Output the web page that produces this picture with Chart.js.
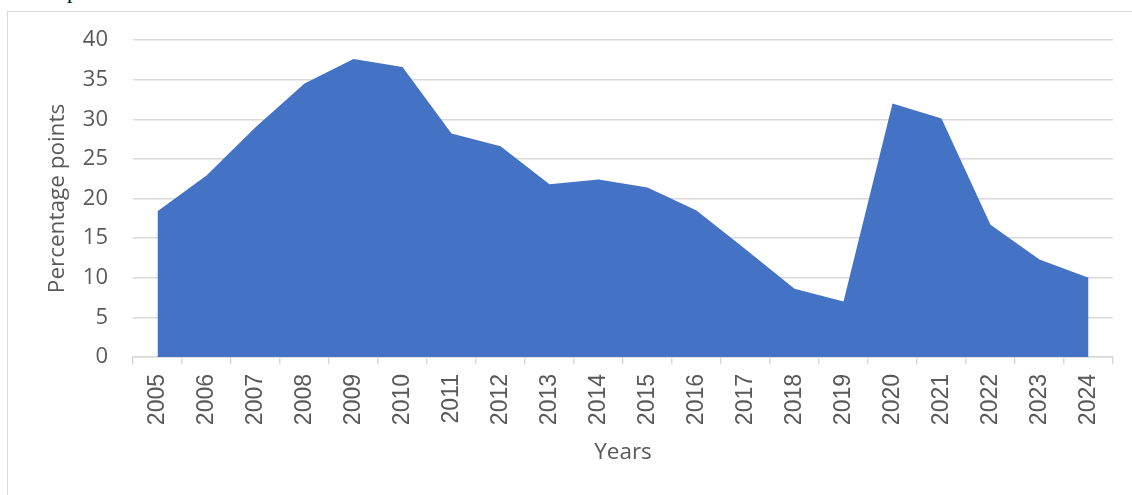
<!DOCTYPE html>
<html lang="en">
<head>
    <meta charset="UTF-8">
    <title>Percentage points by year</title>
    <script src="https://cdn.jsdelivr.net/npm/chart.js"></script>
    <style>
        body { margin: 0; background: #fff; overflow: hidden; }
        #frame { position: absolute; left: 7px; top: 11px; width: 1200px; height: 600px; border: 1px solid #d9d9d9; }
        #cut { position: absolute; left: 67px; top: -20px; font: 22px/22px "Liberation Serif", serif; color: #000; }
        #graph { position: absolute; left: 0; top: 0; }
    </style>
</head>
<body>
    <div id="frame"></div>
    <div id="cut">p</div>
    <canvas id="graph" width="1132" height="495"></canvas>

    <script>
        // Values
        const years = ["2005", "2006", "2007", "2008", "2009", "2010", "2011", "2012", "2013", "2014",
                       "2015", "2016", "2017", "2018", "2019", "2020", "2021", "2022", "2023", "2024"];
        const points = [18.4, 22.9, 29.0, 34.5, 37.6, 36.6, 28.2, 26.6, 21.8, 22.4,
                        21.4, 18.5, 13.6, 8.6, 7.0, 32.0, 30.1, 16.7, 12.3, 10.0];
        const yTicks = [0, 5, 10, 15, 20, 25, 30, 35, 40];

        const textColor = "#595959";
        const lineColor = "#d9d9d9";
        const calibriLike = "'Open Sans', sans-serif";

        const ctx = document.getElementById("graph").getContext("2d");
        new Chart(ctx, {
            type: "line",
            data: {
                labels: years,
                datasets: [{
                    label: "Percentage points",
                    data: points,
                    fill: "origin",
                    backgroundColor: "#4472c4",
                    borderWidth: 0,
                    pointRadius: 0,
                    tension: 0
                }]
            },
            options: {
                responsive: false,
                animation: false,
                layout: { padding: { top: 40, right: 19, left: 0, bottom: 0 } },
                plugins: {
                    legend: { display: false },
                    tooltip: { enabled: false }
                },
                scales: {
                    x: {
                        offset: true,
                        afterFit: scale => { scale.height = 138; },
                        border: { display: true, color: lineColor, width: 1.5 },
                        grid: {
                            offset: true,
                            drawOnChartArea: false,
                            drawTicks: true,
                            tickLength: 7,
                            color: lineColor,
                            lineWidth: 1.5
                        },
                        ticks: {
                            color: textColor,
                            font: { family: "'Liberation Sans', Arial, sans-serif", size: 23 },
                            minRotation: 90,
                            maxRotation: 90,
                            padding: 10,
                            autoSkip: false
                        },
                        title: {
                            display: true,
                            text: "Years",
                            color: textColor,
                            font: { family: calibriLike, size: 22.5 },
                            padding: { top: 0, bottom: 29 }
                        }
                    },
                    y: {
                        min: yTicks[0],
                        max: yTicks[yTicks.length - 1],
                        afterFit: scale => { scale.width = 133; },
                        afterBuildTicks: scale => { scale.ticks = yTicks.map(v => ({ value: v })); },
                        border: { display: false },
                        grid: { color: lineColor, lineWidth: 1.5, drawTicks: false },
                        ticks: {
                            color: textColor,
                            font: { family: calibriLike, size: 22 },
                            padding: 25
                        },
                        title: {
                            display: true,
                            text: "Percentage points",
                            color: textColor,
                            font: { family: calibriLike, size: 22.5 },
                            padding: { top: 44, bottom: 0 }
                        }
                    }
                }
            }
        });
    </script>
</body>
</html>
